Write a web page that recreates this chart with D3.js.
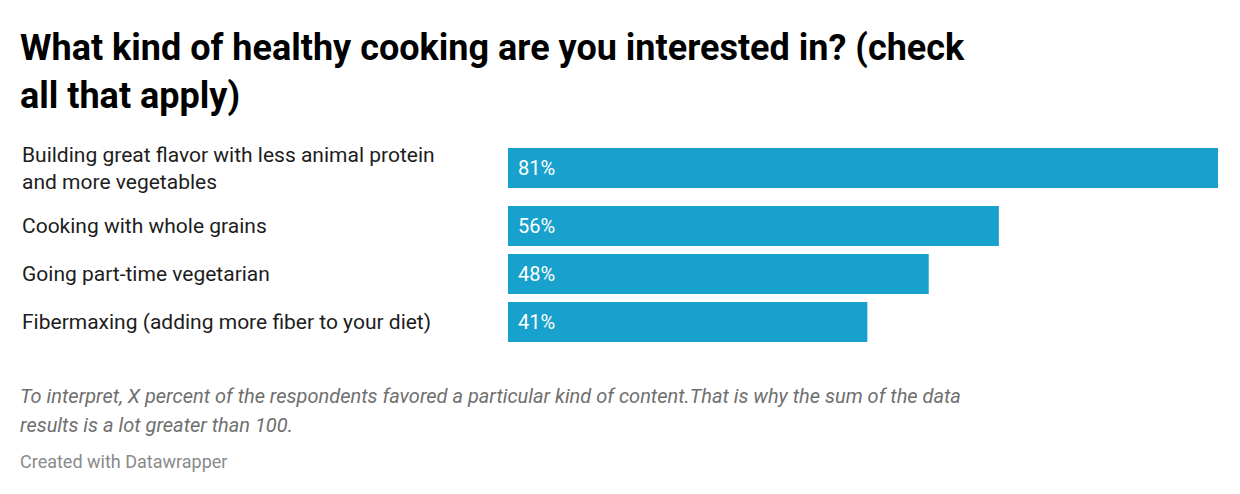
<!DOCTYPE html>
<html>
<head>
<meta charset="UTF-8">
<script src="https://d3js.org/d3.v7.min.js"></script>
<style>
  body { margin: 0; background: #fff; font-family: Roboto, sans-serif; }
</style>
</head>
<body>
<script>
  const categories = [
    ['Building great flavor with less animal protein', 'and more vegetables'],
    ['Cooking with whole grains'],
    ['Going part-time vegetarian'],
    ['Fibermaxing (adding more fiber to your diet)']
  ];
  const values = [81, 56, 48, 41];
  const titleLines = ['What kind of healthy cooking are you interested in? (check', 'all that apply)'];
  const noteLines = ['To interpret, X percent of the respondents favored a particular kind of content.That is why the sum of the data', 'results is a lot greater than 100.'];

  const svg = d3.select('body').append('svg').attr('width', 1240).attr('height', 494);

  svg.append('text').attr('font-size', 36).attr('font-weight', 700).attr('fill', '#000')
    .selectAll('tspan').data(titleLines).enter().append('tspan')
    .attr('x', 20).attr('y', (d, i) => 60 + i * 48).text(d => d);

  const x = d3.scaleLinear().domain([0, 81]).range([508, 1218]);

  // row tops: bar height 40, gap 8, extra for 2-line labels
  const barH = 40;
  let rowTop = 148;
  const rows = categories.map((lines, i) => {
    const r = { lines, value: values[i], y: rowTop };
    rowTop += barH + 8 + (lines.length > 1 ? 10 : 0);
    return r;
  });

  const g = svg.append('g').selectAll('g').data(rows).enter().append('g');

  g.append('rect')
    .attr('x', x(0)).attr('y', d => d.y)
    .attr('width', d => x(d.value) - x(0)).attr('height', barH)
    .attr('fill', '#18a1cd');

  g.append('text').attr('x', x(0) + 10).attr('y', d => d.y + barH / 2 + 7)
    .attr('font-size', 20).attr('fill', '#fff').text(d => d.value + '%');

  g.append('text').attr('font-size', 21).attr('fill', '#1d1d1d')
    .each(function (d) {
      const t = d3.select(this);
      const y0 = d.lines.length > 1 ? d.y + 14 : d.y + barH / 2 + 7;
      d.lines.forEach((l, i) => t.append('tspan').attr('x', 22).attr('y', y0 + i * 27).text(l));
    });

  svg.append('text').attr('font-size', 20).attr('font-style', 'italic').attr('fill', '#6f6f6f')
    .selectAll('tspan').data(noteLines).enter().append('tspan')
    .attr('x', 20).attr('y', (d, i) => 403 + i * 29).text(d => d);

  svg.append('text').attr('x', 20).attr('y', 468).attr('font-size', 18).attr('fill', '#8a8a8a')
    .text('Created with Datawrapper');
</script>
</body>
</html>
